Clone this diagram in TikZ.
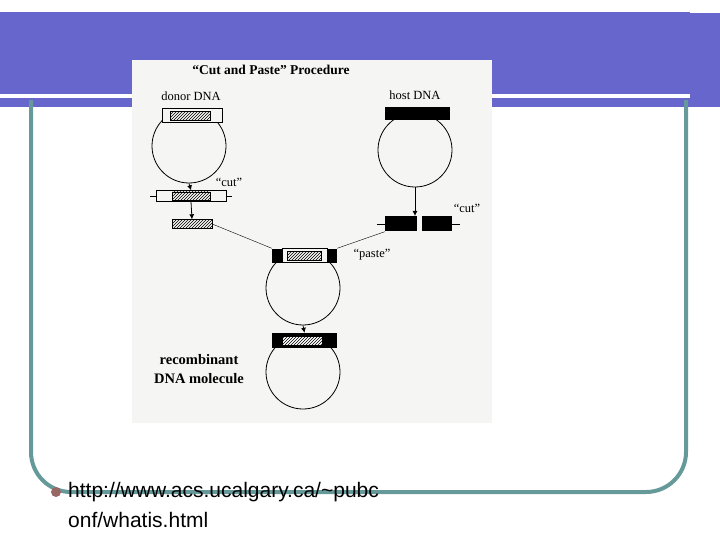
\documentclass[tikz,border=0pt]{standalone}
\usepackage{fontspec}
\setmainfont{Liberation Serif}
\newfontfamily\slidefont{Liberation Sans}
\usetikzlibrary{patterns,arrows.meta}
\definecolor{banner}{HTML}{6666CC}
\definecolor{frame}{HTML}{669999}
\definecolor{dot}{HTML}{996666}
\definecolor{scan}{HTML}{F5F5F3}
\tikzset{
  plasmid/.style={draw,thick,circle,minimum size=74pt,inner sep=0pt},
  hatchbox/.style={draw,pattern=north east lines,inner sep=0pt},
  hostbox/.style={fill=black,inner sep=0pt},
  lab/.style={font=\fontsize{12.5}{14}\selectfont},
  step arrow/.style={thick,-{Latex[length=5pt,width=5pt]}}
}
\begin{document}
\begin{tikzpicture}[x=1pt,y=-1pt]
\useasboundingbox (0,0) rectangle (720,540);

% slide banner
\fill[banner] (0,12) rectangle (690,94);
\fill[banner] (0,98) rectangle (690,107);
\fill[banner] (690,13) rectangle (720,107);
\fill[white] (0,95) rectangle (635,98);

% frame
\draw[frame,line width=4pt,rounded corners=40pt] (31,100) -- (31,492) -- (686,492) -- (686,100);

% scanned figure
\fill[scan] (132,60) rectangle (492,423);
\node[font=\bfseries\fontsize{13.5}{15}\selectfont] (title) at (271,70) {``Cut and Paste'' Procedure};
\node[lab] (donorlab) at (191,96) {donor DNA};
\node[lab] (hostlab) at (415,95) {host DNA};

% donor plasmid
\node[plasmid] (donor) at (189,146) {};
\fill[scan] (162,108) rectangle (222,123);
\node[draw,minimum width=60pt,minimum height=14pt,inner sep=0pt] (donorseg) at (192,115.5) {};
\node[hatchbox,minimum width=40pt,minimum height=9pt] (donorins) at (190,116) {};

% host plasmid
\node[plasmid] (host) at (415,150) {};
\node[hostbox,minimum width=65pt,minimum height=13pt] (hostseg) at (417,113.5) {};

% donor cut
\node[draw,minimum width=70pt,minimum height=11pt,inner sep=0pt] (donorcut) at (191,196) {};
\node[hatchbox,minimum width=38pt,minimum height=8pt] (cutins) at (191,196) {};
\draw (donorcut.west) -- +(-6,0);
\draw (donorcut.east) -- +(6,0);
\node[lab] (cutA) at (229,182) {``cut''};
\draw[step arrow] (donor.south) -- (donorcut.north);

\node[hatchbox,minimum width=40pt,minimum height=9pt] (insert) at (192,224) {};
\draw[step arrow] (donorcut.south) -- (insert.north);

% host cut
\node[hostbox,minimum width=32pt,minimum height=15pt] (hostL) at (401,224) {};
\node[hostbox,minimum width=30pt,minimum height=15pt] (hostR) at (437,224) {};
\draw (hostL.west) -- +(-8,0);
\draw (hostR.east) -- +(8,0);
\node[lab] (cutB) at (467,208) {``cut''};
\draw[step arrow] (host.south) -- (415,216);

% paste
\node[plasmid] (paste) at (303,288) {};
\fill[scan] (272,248) rectangle (337,263);
\node[hostbox,minimum width=10pt,minimum height=14pt] (pasteL) at (277,255.5) {};
\node[hostbox,minimum width=10pt,minimum height=14pt] (pasteR) at (332,255.5) {};
\node[draw,minimum width=45pt,minimum height=14pt,inner sep=0pt] (pasteseg) at (304.5,255.5) {};
\node[hatchbox,minimum width=34pt,minimum height=9pt] (pasteins) at (304,256) {};
\node[lab] (pastelab) at (372,255) {``paste''};
\draw (insert.east) -- (pasteL.north west);
\draw (hostL.south west) -- (pasteR.north east);

% recombinant
\node[plasmid] (recomb) at (303,372) {};
\node[hostbox,minimum width=65pt,minimum height=15pt] (recseg) at (304.5,340.5) {};
\fill[white] (282,336.5) rectangle (322,345.5);
\node[hatchbox,minimum width=40pt,minimum height=9pt] (recins) at (302,341) {};
\draw[step arrow] (paste.south) -- (recseg.north);
\node[align=center,font=\bfseries\fontsize{14.5}{19}\selectfont] (reclab) at (199,369) {recombinant\\DNA molecule};

% bullet
\fill[dot] (56,492) circle (5);
\node[anchor=base west,inner sep=0pt,font=\slidefont\fontsize{21}{30}\selectfont] (url) at (68,497)
  {http://www.acs.ucalgary.ca/\char`~pubc};
\node[anchor=base west,inner sep=0pt,font=\slidefont\fontsize{21}{30}\selectfont] (url2) at (68,527)
  {onf/whatis.html};
\end{tikzpicture}
\end{document}
